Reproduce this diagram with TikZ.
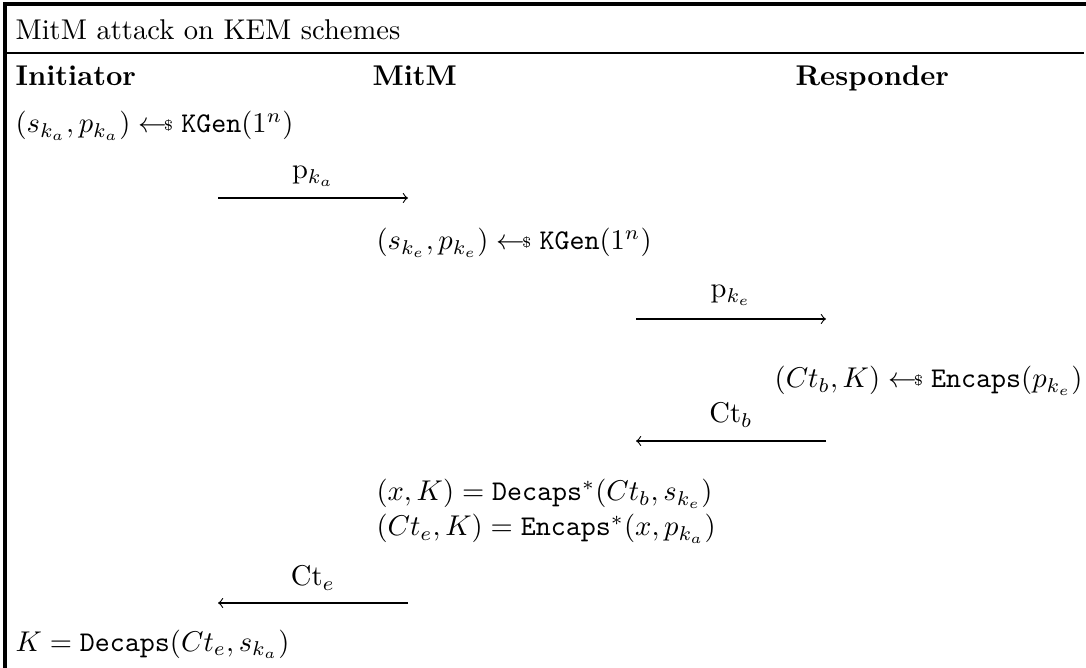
\documentclass[tikz,border=0pt]{standalone}
\usepackage{amsmath}
\newcommand{\smp}{\mathrel{{\leftarrow}\mkern-2mu\vcenter{\hbox{$\scriptscriptstyle\$$}}}}
\begin{document}
\begin{tikzpicture}[x=0.350pt,y=-0.350pt,
  txt/.style={inner sep=0pt, anchor=base west},
  txtr/.style={inner sep=0pt, anchor=base east},
  lbl/.style={inner sep=0pt, anchor=base},
  msg/.style={->, line width=0.4pt},
  frame/.style={line width=1.1pt},
  rule/.style={line width=0.8pt}]
\useasboundingbox (0,0) rectangle (1086,668);
\draw[frame] (5,668) -- (5,4) -- (1086,4);
\draw[rule] (5,53) -- (1084,53);
\node[txt] (title) at (15,40) {MitM attack on KEM schemes};
\node[txt] (hI) at (15,86) {\textbf{Initiator}};
\node[txt] (hM) at (372,86) {\textbf{MitM}};
\node[txt] (hR) at (795,86) {\textbf{Responder}};
\node[txt] (r1) at (15,133) {$(s_{k_a}, p_{k_a}) \smp \mathtt{KGen}(1^n)$};
\coordinate (a1s) at (218,198);
\coordinate (a1e) at (408,198);
\draw[msg] (a1s) -- (a1e);
\node[lbl] (l1) at (313,179) {$\mathrm{p}_{k_a}$};
\node[txt] (r2) at (376,250) {$(s_{k_e}, p_{k_e}) \smp \mathtt{KGen}(1^n)$};
\coordinate (a2s) at (636,319);
\coordinate (a2e) at (826,319);
\draw[msg] (a2s) -- (a2e);
\node[lbl] (l2) at (731,298) {$\mathrm{p}_{k_e}$};
\node[txtr] (r3) at (1083,388) {$(Ct_b, K) \smp \mathtt{Encaps}(p_{k_e})$};
\coordinate (a3s) at (826,441);
\coordinate (a3e) at (636,441);
\draw[msg] (a3s) -- (a3e);
\node[lbl] (l3) at (731,423) {$\mathrm{Ct}_b$};
\node[txt] (r4) at (376,501) {$(x, K) = \mathtt{Decaps}^*(Ct_b, s_{k_e})$};
\node[txt] (r5) at (376,536) {$(Ct_e, K) = \mathtt{Encaps}^*(x, p_{k_a})$};
\coordinate (a4s) at (408,603);
\coordinate (a4e) at (218,603);
\draw[msg] (a4s) -- (a4e);
\node[lbl] (l4) at (313,586) {$\mathrm{Ct}_e$};
\node[txt] (r6) at (15,651) {$K = \mathtt{Decaps}(Ct_e, s_{k_a})$};
\end{tikzpicture}
\end{document}
